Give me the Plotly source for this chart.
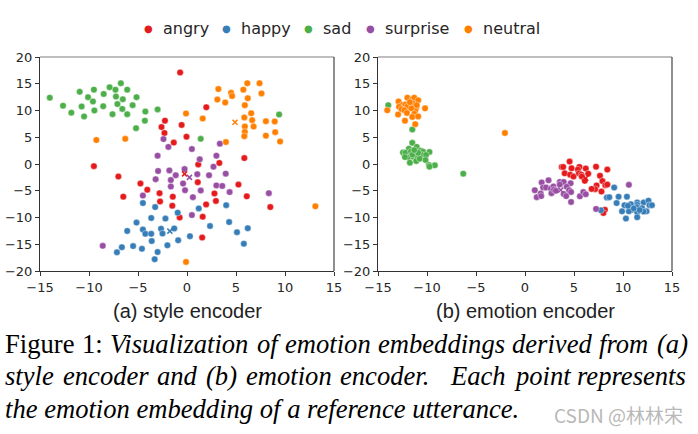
import plotly.graph_objects as go

emotions = ["angry", "happy", "sad", "surprise", "neutral"]
colors = {"angry": "#e41a1c", "happy": "#377eb8", "sad": "#4daf4a",
          "surprise": "#984ea3", "neutral": "#ff7f00"}

# ---------------- (a) style encoder ----------------
angry_style_x = [-0.7, -2.25, -2.6, -2.3, -1.35, -9.5, -0.55, -0.05, 1.97, 3.3, 1.15, 5.85, -7.0, -4.75, -4.05,
                 -6.5, -2.8, -1.45, -2.75, -1.5, -0.75, 1.1, 5.25, 2.8, 6.1, 2.95, 1.95, 8.5, 1.6, 1.55]
angry_style_y = [17.1, 8.1, 6.9, 5.8, 4.0, -0.4, 7.3, 5.1, 10.6, 0.2, -0.1, 1.1, -2.35, -3.65, -4.8,
                 -6.1, -5.45, -6.1, -7.0, -7.8, -10.0, -3.4, -3.85, -5.5, -6.05, -6.9, -7.55, -8.05, -9.85, -13.75]

happy_style_x = [-4.5, -3.25, -0.95, -3.65, -2.2, -5.15, -6.1, -4.5, -4.25, -3.65, -2.65, -2.5, -1.3, -0.9, -3.6,
                 -2.0, -5.5, -4.6, -6.65, -7.15, -3.0, -3.3, 4.0, 1.2, 4.3, 2.35, 6.2, 5.1, 0.3, 5.8]
happy_style_y = [-7.3, -8.05, -9.1, -10.1, -10.2, -10.95, -12.5, -12.25, -13.05, -13.05, -12.1, -13.0, -12.05, -14.25, -14.4,
                 -15.2, -15.35, -15.85, -15.55, -16.5, -16.45, -17.8, -7.7, -8.3, -10.85, -11.6, -12.0, -12.75, -13.5, -14.9]

sad_style_x = [-14.0, -12.65, -11.8, -10.95, -10.75, -10.5, -10.1, -9.6, -9.5, -9.45, -8.55, -8.5, -7.9, -7.6, -7.3,
               -7.25, -7.1, -6.75, -6.6, -6.55, -6.1, -6.1, -5.55, -5.2, -5.15, -4.3, -4.25, -3.0, 1.4, 9.4]
sad_style_y = [12.4, 10.9, 9.6, 13.5, 10.75, 8.9, 12.5, 11.7, 13.9, 10.0, 10.8, 13.1, 14.35, 9.3, 13.9,
               12.6, 11.2, 15.1, 10.3, 12.1, 13.9, 9.3, 11.0, 6.7, 12.5, 8.1, 9.8, 10.2, 4.7, 9.25]

surprise_style_x = [-2.4, -1.9, -3.0, 0.5, 3.35, 1.3, 3.0, 2.7, -2.95, -1.8, -1.15, -1.65, -3.2, -1.65, -4.5,
                    -8.6, -0.25, 1.05, 2.25, 3.95, -0.4, -0.2, 1.4, 3.0, 3.6, 4.35, 8.35, 0.6, 0.5]
surprise_style_y = [4.65, 3.2, 1.55, 2.8, 3.8, 0.87, 1.55, -0.5, -1.3, -1.2, -2.1, -3.0, -2.85, -4.2, -5.9,
                    -15.3, -0.95, -1.9, -2.1, -1.8, -3.65, -4.9, -4.95, -4.0, -4.1, -5.25, -5.45, -6.2, -9.55]

neutral_style_x = [-9.25, -6.3, -0.1, 1.6, 3.2, 3.1, 3.9, 4.5, 4.6, 3.97, 5.75, 6.15, 7.4, 7.6, 6.2,
                   5.9, 6.55, 5.85, 6.65, 6.8, 5.9, 5.9, 5.85, 8.05, 8.95, 9.0, 8.05, 9.5, 13.1, -0.1]
neutral_style_y = [4.5, 4.7, 9.44, 8.5, 14.0, 12.05, 11.5, 13.3, 12.7, 4.1, 13.9, 15.1, 15.1, 13.2, 12.3,
                   11.0, 9.5, 8.7, 8.2, 7.0, 7.0, 6.0, 5.2, 8.0, 7.95, 5.95, 5.3, 4.2, -7.9, -18.3]

center_style_labels = ["angry", "surprise", "happy", "neutral"]
center_style_x = [-0.25, 0.25, -1.75, 4.9]
center_style_y = [-1.85, -2.5, -12.55, 7.8]

# ---------------- (b) emotion encoder ----------------
angry_emo_x = [4.55, 3.75, 3.9, 4.75, 5.55, 5.4, 6.2, 7.25, 8.4, 4.05, 4.6, 4.95, 5.5, 5.75, 6.45,
               5.8, 7.65, 6.1, 7.9, 8.2, 8.4, 7.3, 7.15, 6.8, 7.8, 8.15, 8.0]
angry_emo_y = [0.45, -0.55, -0.55, -0.8, -0.55, -1.05, -0.85, -0.5, -1.05, -1.75, -2.0, -2.35, -1.75, -2.0, -1.8,
               -2.35, -2.2, -3.15, -3.2, -3.95, -3.85, -4.0, -4.7, -4.65, -5.15, -8.55, -9.15]

surprise_emo_x = [1.7, 2.4, 1.0, 1.2, 1.6, 1.65, 1.85, 2.15, 2.65, 2.9, 2.7, 2.95, 3.55, 3.95, 3.55,
                  4.65, 4.25, 4.5, 4.7, 3.95, 4.2, 4.7, 5.6, 5.95, 6.2, 7.25, 10.6, 3.15]
surprise_emo_y = [-3.45, -3.05, -4.9, -6.2, -5.5, -6.0, -4.4, -4.4, -4.6, -4.2, -5.45, -4.8, -3.35, -3.35, -3.85,
                  -3.6, -4.25, -4.9, -5.25, -5.6, -6.0, -7.1, -6.05, -5.25, -5.65, -8.4, -3.9, -5.0]

happy_emo_x = [9.1, 8.35, 8.6, 9.55, 10.4, 9.35, 10.15, 11.45, 11.45, 12.1, 12.6, 12.7, 12.95, 10.7, 10.95,
               11.4, 11.95, 12.4, 12.1, 9.9, 10.6, 11.45, 10.3, 11.45, 7.75, 10.8, 11.1, 11.7, 10.5]
happy_emo_y = [-4.4, -6.25, -6.2, -6.1, -6.1, -7.3, -7.7, -7.2, -7.6, -7.2, -6.85, -7.7, -7.7, -8.1, -8.55,
               -8.05, -8.25, -8.85, -8.9, -8.85, -8.85, -9.0, -10.2, -9.95, -8.65, -7.5, -8.3, -8.6, -7.8]

sad_emo_x = [-13.95, -11.5, -6.3, -11.5, -11.85, -11.05, -12.45, -12.2, -11.65, -11.25, -10.65, -10.4, -9.75, -11.9, -11.4,
             -11.0, -10.5, -10.1, -11.75, -11.1, -10.75, -10.15, -9.8, -9.2, -9.75, -12.25, -11.5, -10.9, -11.3]
sad_emo_y = [11.0, 6.45, -1.8, 3.95, 2.85, 3.2, 2.15, 2.1, 2.3, 2.0, 2.5, 2.3, 2.25, 1.2, 1.35,
             1.5, 1.7, 1.7, 0.25, 0.55, 1.0, 0.75, -0.2, -0.25, -0.5, 1.3, 1.75, 2.1, 2.6]

neutral_emo_x = [-14.05, -12.9, -12.0, -11.5, -11.3, -10.9, -12.5, -12.2, -12.0, -12.85, -12.6, -11.45, -11.1, -11.2, -11.6,
                 -12.3, -12.05, -12.95, -11.3, -11.5, -10.9, -12.25, -11.2, -10.2, -11.05, -11.75, -2.05]
neutral_emo_y = [10.05, 11.7, 12.4, 12.1, 12.4, 11.9, 11.05, 11.1, 10.75, 10.7, 10.25, 11.35, 10.5, 9.95, 10.4,
                 10.05, 9.55, 9.25, 9.4, 8.8, 8.9, 8.1, 7.45, 10.4, 11.0, 11.55, 5.8]

center_emo_labels = ["angry", "surprise"]
center_emo_x = [6.2, 3.65]
center_emo_y = [-2.65, -4.85]

style_data = {
    "angry": (angry_style_x, angry_style_y),
    "happy": (happy_style_x, happy_style_y),
    "sad": (sad_style_x, sad_style_y),
    "surprise": (surprise_style_x, surprise_style_y),
    "neutral": (neutral_style_x, neutral_style_y),
}
emo_data = {
    "angry": (angry_emo_x, angry_emo_y),
    "happy": (happy_emo_x, happy_emo_y),
    "sad": (sad_emo_x, sad_emo_y),
    "surprise": (surprise_emo_x, surprise_emo_y),
    "neutral": (neutral_emo_x, neutral_emo_y),
}

panel_titles = ["(a) style encoder", "(b) emotion encoder"]
caption_line1_roman = ["Figure", "1:"]
caption_line1_italic = ["Visualization", "of", "emotion", "embeddings", "derived", "from", "(a)"]
caption_line2 = ["style", "encoder", "and", "(b)", "emotion", "encoder.", "Each", "point", "represents"]
caption_line3 = "the emotion embedding of a reference utterance."
watermark = "CSDN @林林宋"

W, H = 698, 434
fig = go.Figure()

marker_base = dict(size=6.5, line=dict(color="white", width=0.4))
for axes, data in (("x", style_data), ("x2", emo_data)):
    ya = "y" if axes == "x" else "y2"
    for emo in emotions:
        xs, ys = data[emo]
        fig.add_trace(go.Scatter(x=xs, y=ys, mode="markers", name=emo, xaxis=axes, yaxis=ya,
                                 marker=dict(color=colors[emo], **marker_base), showlegend=False))

for axes, labels, cx, cy in (("x", center_style_labels, center_style_x, center_style_y),
                             ("x2", center_emo_labels, center_emo_x, center_emo_y)):
    ya = "y" if axes == "x" else "y2"
    fig.add_trace(go.Scatter(x=cx, y=cy, mode="markers", xaxis=axes, yaxis=ya, showlegend=False,
                             marker=dict(symbol="x-thin", size=5,
                                         color=[colors[l] for l in labels],
                                         line=dict(width=1.5, color=[colors[l] for l in labels]))))


def px(x):
    return x / W


def py(y):
    return 1 - y / H


dom1 = [px(40), px(334)]
dom2 = [px(378), px(672)]
ydom = [py(271), py(57)]

tickfont = dict(family="DejaVu Sans", size=13, color="#262626")
xcommon = dict(range=[-15, 15], tickvals=[-15, -10, -5, 0, 5, 10, 15], ticks="outside", ticklen=4,
               tickwidth=1, tickcolor="#333", showline=True, linecolor="#333", linewidth=1,
               showgrid=False, zeroline=False, tickfont=tickfont, fixedrange=True)
ycommon = dict(range=[-20, 20], tickvals=[-20, -15, -10, -5, 0, 5, 10, 15, 20], ticks="outside", ticklen=4,
               tickwidth=1, tickcolor="#333", showline=True, linecolor="#333", linewidth=1,
               showgrid=False, zeroline=False, tickfont=tickfont, fixedrange=True)

fig.update_layout(
    width=W, height=H, margin=dict(l=0, r=0, t=0, b=0, pad=0, autoexpand=False),
    paper_bgcolor="white", plot_bgcolor="white", showlegend=False,
    xaxis=dict(domain=dom1, anchor="y", **xcommon),
    yaxis=dict(domain=ydom, anchor="x", **ycommon),
    xaxis2=dict(domain=dom2, anchor="y2", **xcommon),
    yaxis2=dict(domain=ydom, anchor="x2", **ycommon),
)

shapes = []
for xr, yr in (("x domain", "y domain"), ("x2 domain", "y2 domain")):
    shapes.append(dict(type="line", xref=xr, yref=yr, x0=0, x1=1, y0=1, y1=1,
                       line=dict(color="#a8a8a8", width=1.5)))
    shapes.append(dict(type="line", xref=xr, yref=yr, x0=1, x1=1, y0=0, y1=1,
                       line=dict(color="#444", width=1.2)))
fig.update_layout(shapes=shapes)

ann = []
# legend built from text
legend_dot_x = [148, 226, 308, 370, 468]
for emo, dx in zip(emotions, legend_dot_x):
    ann.append(dict(x=px(dx), y=py(29), xref="paper", yref="paper", text="●", showarrow=False,
                    xanchor="center", yanchor="middle",
                    font=dict(family="DejaVu Sans", size=10, color=colors[emo])))
    ann.append(dict(x=px(dx + 13), y=py(29), xref="paper", yref="paper", text=emo, showarrow=False,
                    xanchor="left", yanchor="middle",
                    font=dict(family="DejaVu Sans", size=16, color="#262626")))

# panel titles
for t, cx in zip(panel_titles, [187, 525]):
    ann.append(dict(x=px(cx), y=py(311), xref="paper", yref="paper", text=t, showarrow=False,
                    xanchor="center", yanchor="middle",
                    font=dict(family="Liberation Sans", size=20, color="#222")))

# ---- caption: justified lines laid out word by word (Times metrics, 1/1000 em) ----
ROMAN = {"F": 556, "i": 278, "g": 500, "u": 500, "r": 333, "e": 444, "1": 500, ":": 278}
ITAL = {"a": 500, "b": 500, "c": 444, "d": 500, "e": 444, "f": 278, "g": 500, "h": 500, "i": 278,
        "l": 278, "m": 722, "n": 500, "o": 500, "p": 500, "r": 389, "s": 389, "t": 278, "u": 500,
        "v": 444, "y": 444, "z": 389, ".": 250, "(": 333, ")": 333, "E": 611, "V": 611}
FS = 26.6
cap_font = dict(family="Liberation Serif", size=FS, color="black")
PAD = 2  # annotation borderpad + border


def wlen(word, table):
    return sum(table[c] for c in word) * FS / 1000.0


def justify(words, x0, x1, weights):
    widths = [wlen(w, tab) for w, tab in words]
    free = (x1 - x0) - sum(widths)
    unit = free / sum(weights)
    xs, x = [], x0
    for i, wd in enumerate(widths):
        xs.append(x)
        x += wd + (unit * weights[i] if i < len(weights) else 0)
    return xs


line1 = [(w, ROMAN) for w in caption_line1_roman] + [(w, ITAL) for w in caption_line1_italic]
line2 = [(w, ITAL) for w in caption_line2]
w2 = [1, 1, 1, 1, 1, 2, 1, 1]
for words, weights, yc in ((line1, [1] * 8, 344), (line2, w2, 376)):
    xs = justify(words, 5, 688, weights)
    for (w, tab), xw in zip(words, xs):
        txt = w if tab is ROMAN else "<i>" + w + "</i>"
        ann.append(dict(x=px(xw - PAD), y=py(yc), xref="paper", yref="paper", text=txt, showarrow=False,
                        xanchor="left", yanchor="middle", font=cap_font))
ann.append(dict(x=px(5 - PAD), y=py(409), xref="paper", yref="paper", text="<i>" + caption_line3 + "</i>",
                showarrow=False, xanchor="left", yanchor="middle", font=cap_font))

ann.append(dict(x=px(685), y=py(414), xref="paper", yref="paper", text=watermark, showarrow=False,
                xanchor="right", yanchor="middle",
                font=dict(family="Noto Sans CJK SC", size=19, color="#b8b8b8")))
fig.update_layout(annotations=ann)

fig.write_html("out.html", config={"displayModeBar": False},
               post_script="document.body.style.margin='0';document.body.style.overflow='hidden';")
